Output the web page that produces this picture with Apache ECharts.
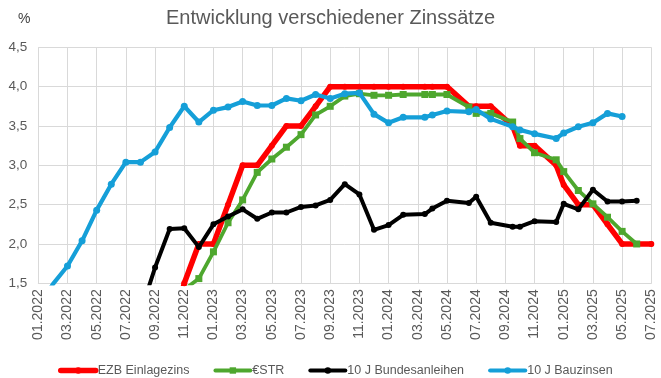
<!DOCTYPE html>
<html>
<head>
<meta charset="utf-8">
<script src="https://cdn.jsdelivr.net/npm/echarts@6/dist/echarts.min.js"></script>
<style>
  html, body { margin: 0; padding: 0; background: #ffffff; }
  #chart { width: 661px; height: 378px; }
</style>
</head>
<body>
<div id="chart"></div>
<script>
// Observation dates (dd.mm.yyyy)
const dates = [
  '01.01.2022','01.02.2022','01.03.2022','01.04.2022','01.05.2022','01.06.2022',
  '01.07.2022','01.08.2022','01.09.2022','01.10.2022','01.11.2022','01.12.2022',
  '01.01.2023','01.02.2023','01.03.2023','01.04.2023','01.05.2023','01.06.2023',
  '01.07.2023','01.08.2023','01.09.2023','01.10.2023','01.11.2023','01.12.2023',
  '01.01.2024','01.02.2024','16.03.2024','01.04.2024','01.05.2024','16.06.2024',
  '01.07.2024','01.08.2024','16.09.2024','01.10.2024','01.11.2024','16.12.2024',
  '01.01.2025','01.02.2025','01.03.2025','01.04.2025','01.05.2025','01.06.2025',
  '01.07.2025'
];

const seriesNames = ['EZB Einlagezins', '€STR', '10 J Bundesanleihen', '10 J Bauzinsen'];

const ezbEinlagezins = [
  null, null, null, null, null, null, null, null, null, 0.75,
  1.50, 2.00, 2.00, 2.50, 3.00, 3.00, 3.25, 3.50, 3.50, 3.75,
  4.00, 4.00, 4.00, 4.00, 4.00, 4.00, 4.00, 4.00, 4.00, 3.75,
  3.75, 3.75, 3.50, 3.25, 3.25, 3.00, 2.75, 2.50, 2.50, 2.25,
  2.00, 2.00, 2.00
];

const estr = [
  null, null, null, null, null, null, null, null, null, null,
  1.42, 1.56, 1.90, 2.27, 2.56, 2.91, 3.08, 3.23, 3.39, 3.64,
  3.75, 3.88, 3.91, 3.89, 3.89, 3.90, 3.90, 3.90, 3.90, 3.74,
  3.66, 3.66, 3.55, 3.34, 3.16, 3.07, 2.92, 2.68, 2.51, 2.34,
  2.16, 2.00, null
];

const bundesanleihen10J = [
  null, null, null, null, null, null, null, 1.13, 1.70, 2.19,
  2.20, 1.96, 2.25, 2.35, 2.44, 2.32, 2.40, 2.40, 2.47, 2.49,
  2.56, 2.76, 2.63, 2.18, 2.24, 2.37, 2.38, 2.45, 2.55, 2.52,
  2.60, 2.27, 2.22, 2.22, 2.29, 2.28, 2.51, 2.44, 2.69, 2.54,
  2.54, 2.55, null
];

const bauzinsen10J = [
  1.20, 1.49, 1.72, 2.04, 2.43, 2.76, 3.04, 3.04, 3.17, 3.48,
  3.75, 3.55, 3.70, 3.74, 3.81, 3.76, 3.76, 3.85, 3.82, 3.90,
  3.85, 3.91, 3.92, 3.65, 3.54, 3.61, 3.61, 3.64, 3.69, 3.68,
  3.71, 3.59, 3.49, 3.45, 3.40, 3.34, 3.41, 3.49, 3.54, 3.66,
  3.62, null, null
];

const xTickLabels = [
  '01.2022','03.2022','05.2022','07.2022','09.2022','11.2022',
  '01.2023','03.2023','05.2023','07.2023','09.2023','11.2023',
  '01.2024','03.2024','05.2024','07.2024','09.2024','11.2024',
  '01.2025','03.2025','05.2025','07.2025'
];
const yTickLabels = ['1,5','2,0','2,5','3,0','3,5','4,0','4,5'];

// convert a date string into a month position counted from 01.2022
function monthPos(s) {
  const p = s.split('.').map(Number);
  const d = p[0], m = p[1], y = p[2];
  const dim = new Date(y, m, 0).getDate();
  return (y - 2022) * 12 + (m - 1) + (d - 1) / dim;
}
function pairs(values) {
  const out = [];
  values.forEach((v, i) => { if (v !== null) out.push([monthPos(dates[i]), v]); });
  return out;
}

const FONT = "'Liberation Sans', Arial, sans-serif";
const chart = echarts.init(document.getElementById('chart'), null, { renderer: 'canvas' });

const styles = [
  { color: '#FF0000', width: 5.5, symbol: 'circle', size: 6 },
  { color: '#4EA72E', width: 3.8, symbol: 'rect', size: 7 },
  { color: '#000000', width: 4, symbol: 'circle', size: 6 },
  { color: '#159FD8', width: 4.2, symbol: 'circle', size: 7 }
];
const allData = [ezbEinlagezins, estr, bundesanleihen10J, bauzinsen10J];

chart.setOption({
  animation: false,
  textStyle: { fontFamily: FONT },
  title: {
    text: 'Entwicklung verschiedener Zinssätze',
    left: 'center',
    top: 3,
    textStyle: { fontFamily: FONT, fontSize: 20, fontWeight: 'normal', color: '#595959' }
  },
  graphic: [{
    type: 'text', left: 18, top: 12,
    style: { text: '%', fontFamily: FONT, fontSize: 14, fill: '#404040' }
  }],
  legend: {
    data: seriesNames,
    left: 53,
    top: 359,
    itemWidth: 35,
    itemHeight: 8,
    itemGap: 24,
    lineStyle: { width: 'inherit' },
    textStyle: { fontFamily: FONT, fontSize: 12.5, color: '#595959', padding: [0, 0, 0, -3] }
  },
  grid: { left: 38.3, right: 9.7, top: 47.3, bottom: 94.7, containLabel: false, outerBoundsMode: 'none' },
  xAxis: {
    type: 'value',
    min: 0, max: 42, interval: 2,
    axisLine: { show: true, lineStyle: { color: '#d9d9d9', width: 1 } },
    axisTick: { show: false },
    splitLine: { show: true, lineStyle: { color: '#d9d9d9', width: 1 } },
    axisLabel: {
      rotate: 90, margin: 6, fontFamily: FONT, fontSize: 14, color: '#595959',
      formatter: v => xTickLabels[Math.round(v / 2)]
    }
  },
  yAxis: {
    type: 'value',
    min: 1.5, max: 4.5, interval: 0.5,
    axisLine: { show: false },
    axisTick: { show: false },
    splitLine: { show: true, lineStyle: { color: '#d9d9d9', width: 1 } },
    axisLabel: {
      margin: 11, fontFamily: FONT, fontSize: 13.5, color: '#595959',
      formatter: v => yTickLabels[Math.round((v - 1.5) / 0.5)]
    }
  },
  series: seriesNames.map((name, i) => ({
    name: name,
    type: 'line',
    data: pairs(allData[i]),
    clip: true,
    symbol: styles[i].symbol,
    symbolSize: styles[i].size,
    showAllSymbol: true,
    itemStyle: { color: styles[i].color },
    lineStyle: { color: styles[i].color, width: styles[i].width, join: 'round', cap: 'round' },
    z: 2 + i
  }))
});
</script>
</body>
</html>
